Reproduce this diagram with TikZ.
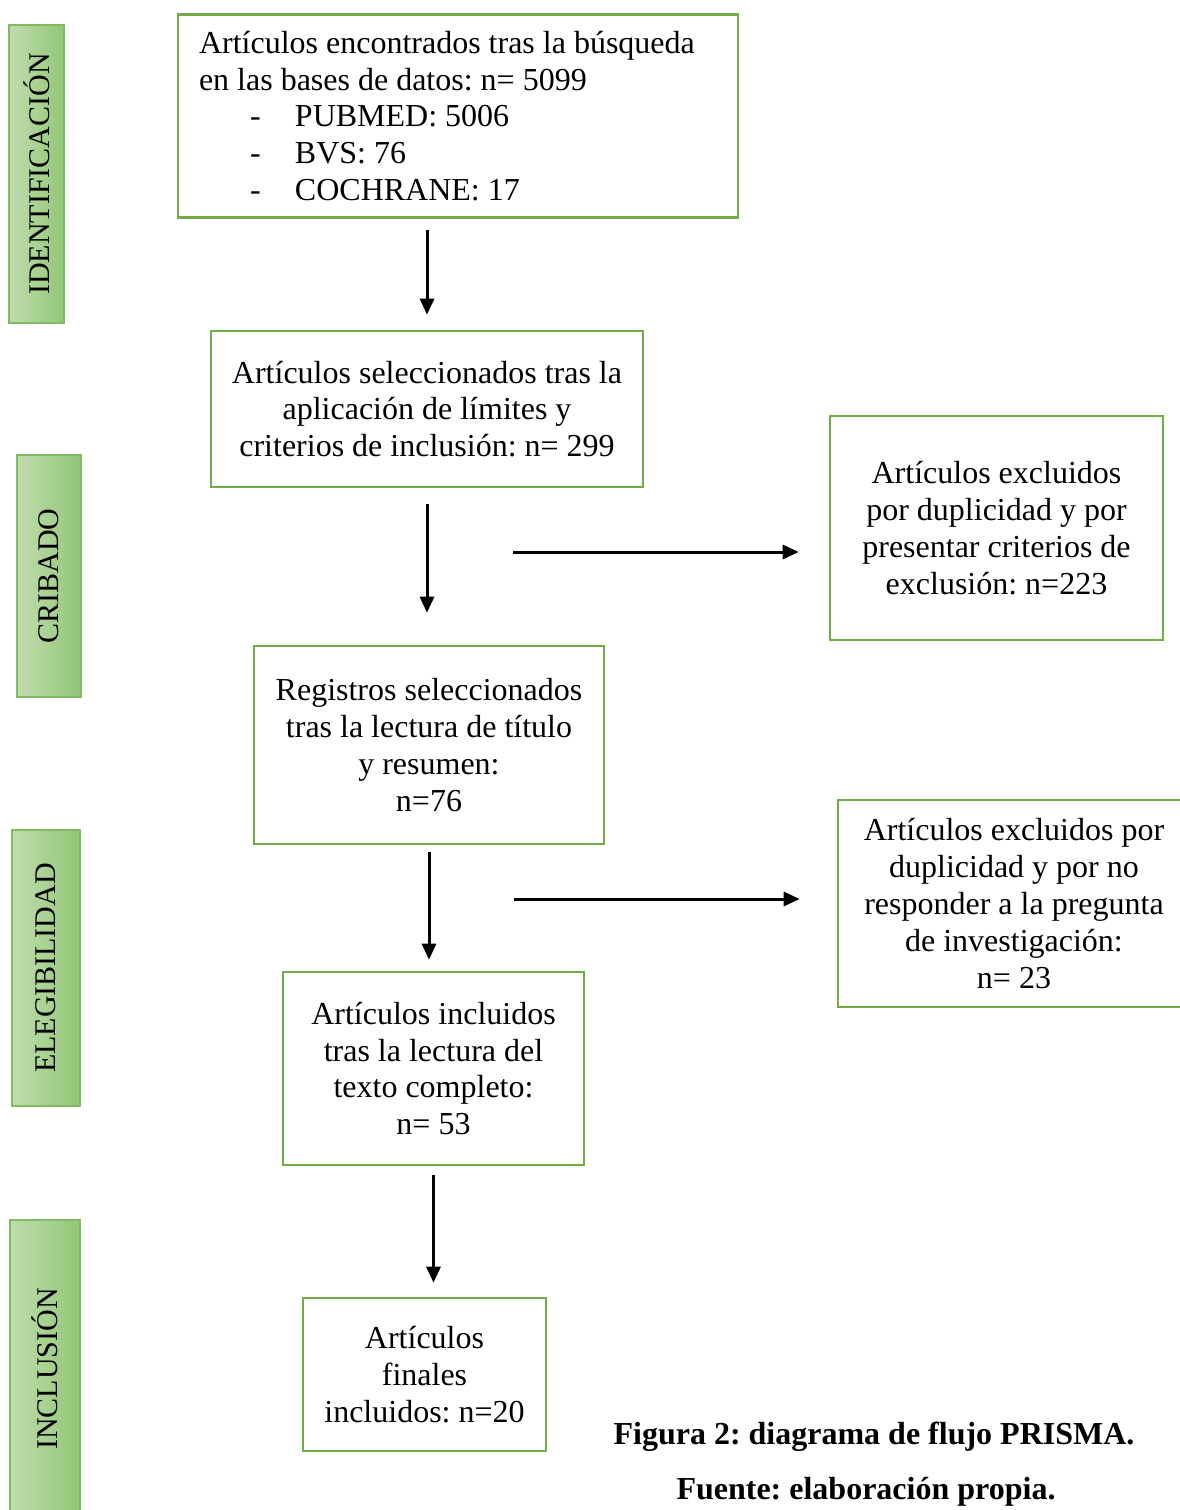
\documentclass[tikz,border=0pt]{standalone}
\usepackage{fontspec}
\setmainfont{Liberation Serif}
\usepackage{graphicx}
\usepackage{tikz}
\usetikzlibrary{arrows.meta, calc}
\frenchspacing

\definecolor{boxgreen}{RGB}{112,173,71}
\definecolor{barlight}{RGB}{192,221,174}
\definecolor{bardark}{RGB}{146,198,118}
\definecolor{baredge}{RGB}{128,186,98}

\begin{document}
\begin{tikzpicture}[x=1pt, y=-1pt,
    stage/.style={draw=boxgreen, line width=2.6pt, inner sep=0pt, align=center,
        font=\fontsize{32}{36.8}\selectfont},
    phase/.style={draw=baredge, line width=1.2pt, left color=barlight, right color=bardark,
        inner sep=0pt, font=\fontsize{30}{34}\selectfont},
    flow/.style={line width=3pt, -{Triangle[length=16pt, width=14pt]}},
    caption/.style={font=\fontsize{32}{36.8}\selectfont\bfseries}]
    \useasboundingbox (0,0) rectangle (1180,1510);

    % --- PHASE BARS (LEFT) ---
    \node[phase, minimum width=55, minimum height=298] (idf) at (36.5,174) {\rotatebox{90}{IDENTIFICACIÓN}};
    \node[phase, minimum width=64, minimum height=242] (crb) at (49,576) {\rotatebox{90}{CRIBADO}};
    \node[phase, minimum width=68, minimum height=276] (elg) at (46,968) {\rotatebox{90}{ELEGIBILIDAD}};
    \node[phase, minimum width=70, minimum height=298] (inc) at (45,1369) {\rotatebox{90}{INCLUSIÓN}};

    % --- MAIN FLOW ---
    \node[stage, align=flush left, text width=518, minimum width=560, minimum height=203] (found) at (458,116)
        {Artículos encontrados tras la búsqueda\\
         en las bases de datos: n= 5099\\
         \hspace*{51pt}\makebox[45pt][l]{-}PUBMED: 5006\\
         \hspace*{51pt}\makebox[45pt][l]{-}BVS: 76\\
         \hspace*{51pt}\makebox[45pt][l]{-}COCHRANE: 17};
    \node[stage, minimum width=432, minimum height=156] (limits) at (427,409)
        {Artículos seleccionados tras la\\ aplicación de límites y\\ criterios de inclusión: n= 299};
    \node[stage, minimum width=350, minimum height=198] (title) at (429,745)
        {Registros seleccionados\\ tras la lectura de título\\ y resumen:\\ n=76};
    \node[stage, minimum width=301, minimum height=193] (fulltext) at (433.5,1068.5)
        {Artículos incluidos\\ tras la lectura del\\ texto completo:\\ n= 53};
    \node[stage, minimum width=243, minimum height=153] (final) at (424.5,1374.5)
        {Artículos\\ finales\\ incluidos: n=20};

    % --- EXCLUSIONS (RIGHT) ---
    \node[stage, minimum width=333, minimum height=224] (excl1) at (996.5,528)
        {Artículos excluidos\\ por duplicidad y por\\ presentar criterios de\\ exclusión: n=223};
    \node[stage, minimum width=352, minimum height=207] (excl2) at (1014,903.5)
        {Artículos excluidos por\\ duplicidad y por no\\ responder a la pregunta\\ de investigación:\\ n= 23};

    % Arrows
    \draw[flow, shorten <=11pt, shorten >=15pt] (found.south -| limits.north) -- (limits.north);
    \draw[flow, shorten <=16pt, shorten >=32pt] (limits.south) -- (limits.south |- title.north);
    \draw[flow, shorten <=7pt, shorten >=11pt] (title.south) -- (title.south |- fulltext.north);
    \draw[flow, shorten <=9pt, shorten >=14pt] (fulltext.south) -- (fulltext.south |- final.north);

    \coordinate (out1) at (513,552);
    \coordinate (out2) at (514,899);
    \draw[flow, shorten >=30pt] (out1) -- (out1 -| excl1.west);
    \draw[flow, shorten >=37pt] (out2) -- (out2 -| excl2.west);

    % Caption
    \node[caption] (fig) at (874,1437) {Figura 2: diagrama de flujo PRISMA.};
    \node[caption] (src) at (866,1492) {Fuente: elaboración propia.};
\end{tikzpicture}
\end{document}
